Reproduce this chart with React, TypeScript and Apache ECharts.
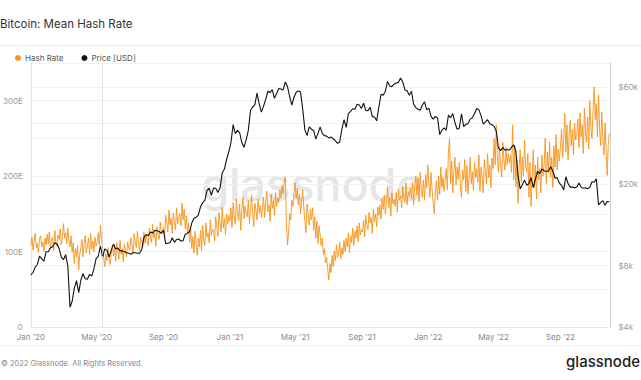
import React, { useEffect, useRef } from "react";
import * as echarts from "echarts";

// sampling steps in days since 2020-01-01
const HASH_STEP_DAYS = 2;
const PRICE_STEP_DAYS = 4;

// Mean hash rate (EH/s), one value every 2 days from 2020-01-01
const hashRate: number[] = [
  // 2020
  108, 119, 102, 114, 124, 105, 111, 99, 117, 121, 106, 113, 100, 118, 109, 123,
  110, 126, 104, 115, 119, 101, 128, 112, 107, 122, 116, 130, 109, 120,
  137, 118, 125, 110, 131, 115, 106, 121, 99, 112, 84, 104, 93, 108, 76, 97,
  105, 116, 93, 111, 121, 98, 108, 118, 96, 124, 103, 114, 100, 119, 107,
  112, 125, 108, 135, 118, 104, 92, 80, 97, 88, 105, 91, 83, 99, 108,
  94, 108, 87, 112, 99, 90, 115, 96, 104, 86, 110, 101, 93, 113, 105,
  102, 118, 109, 98, 124, 112, 105, 127, 110, 101, 119, 114, 106, 126, 111, 121,
  115, 108, 131, 120, 112, 136, 118, 125, 107, 133, 122, 116, 139, 124, 128,
  132, 121, 148, 138, 126, 155, 135, 144, 124, 151, 140, 129, 158, 137, 146,
  150, 134, 164, 142, 156, 130, 147, 125, 138, 112, 131, 104, 120, 98, 127, 110,
  95, 118, 106, 128, 101, 135, 115, 108, 138, 119, 125, 112, 142, 121, 130,
  128, 114, 146, 133, 120, 152, 138, 126, 159, 131, 144, 122, 150, 137, 148,
  // 2021
  140, 158, 132, 165, 147, 136, 170, 152, 141, 163, 128, 155, 172, 144, 160, 150,
  146, 168, 137, 158, 175, 149, 133, 164, 155, 142, 170, 151, 161, 145,
  158, 172, 145, 166, 180, 153, 162, 140, 176, 157, 168, 148, 178, 160, 171,
  165, 182, 171, 188, 176, 192, 199, 138, 109, 125, 150, 142, 168, 160, 178,
  191, 170, 184, 162, 176, 150, 168, 182, 158, 140, 125, 163, 148, 135, 156, 142,
  158, 128, 146, 118, 140, 111, 134, 122, 108, 118, 96, 104, 85, 92, 76,
  62, 84, 72, 95, 80, 101, 88, 109, 92, 98, 112, 90, 105, 96, 115,
  100, 118, 106, 125, 98, 121, 112, 131, 108, 127, 118, 134, 113, 138, 122, 129,
  126, 141, 120, 148, 135, 129, 152, 138, 145, 124, 156, 140, 150, 133, 159,
  148, 162, 143, 170, 156, 175, 150, 166, 186, 158, 172, 147, 178, 163, 169,
  160, 178, 152, 183, 168, 174, 158, 186, 171, 165, 191, 162, 180, 173, 184,
  170, 192, 162, 186, 200, 175, 198, 166, 205, 182, 172, 195, 168, 202, 184, 215,
  // 2022
  190, 172, 205, 182, 164, 150, 178, 194, 168, 200, 176, 212, 185, 198, 180,
  195, 210, 182, 232, 250, 190, 220, 178, 205, 225, 188, 212, 196, 218,
  185, 172, 208, 195, 222, 180, 214, 176, 200, 225, 190, 206, 182, 218, 198, 210,
  192, 228, 180, 212, 200, 178, 222, 206, 190, 230, 198, 215, 185, 224, 210,
  250, 215, 268, 226, 205, 240, 212, 199, 245, 222, 208, 238, 215, 230, 218,
  228, 205, 268, 195, 240, 186, 222, 164, 210, 235, 192, 225, 200, 248, 212,
  205, 230, 172, 218, 160, 200, 235, 185, 215, 170, 225, 195, 210, 178, 228, 200,
  215, 250, 190, 232, 205, 245, 198, 225, 185, 240, 212, 255, 208, 236, 220,
  238, 262, 225, 250, 283, 232, 268, 221, 255, 274, 240, 262, 228, 270, 248,
  255, 276, 238, 284, 252, 268, 230, 290, 260, 245, 278, 236, 300, 265, 250, 288,
  318, 275, 296, 252, 308, 262, 240, 285, 250, 228, 270, 235, 201, 242, 257,
];

// BTC price (USD), one value every 4 days from 2020-01-01
const priceUsd: number[] = [
  // 2020
  7200, 7400, 7850, 8100, 8900, 8650, 8400, 9350,
  9350, 9750, 9900, 10350, 10200, 9700, 8800,
  8550, 9050, 7950, 5000, 5350, 6200, 6750, 5900,
  6800, 7300, 6900, 6850, 7250, 7100, 7700, 8650,
  8900, 9980, 8800, 9650, 9500, 8800, 9550,
  10200, 9650, 9750, 9450, 9450, 9350, 9250, 9200,
  9100, 9250, 9250, 9200, 9200, 9600, 11000, 11350,
  11200, 11700, 11550, 11900, 11850, 11750, 11500,
  11900, 10250, 10300, 10350, 10950, 10400, 10750, 10800,
  10550, 10600, 11400, 11500, 11750, 12950, 13650, 13800,
  14150, 15500, 16300, 16700, 18700, 19150, 17700,
  19200, 19150, 18250, 19250, 22800, 23800, 26500, 28900,
  // 2021
  32000, 39300, 35500, 36800, 35900, 32100, 30400, 33100,
  36900, 46200, 47900, 49200, 56000, 49700, 45200,
  48400, 52300, 57300, 56400, 58300, 52900, 55800,
  59000, 58700, 58100, 63500, 60400, 53800, 49000, 53500,
  56600, 57400, 56700, 46800, 37000, 34700, 38300, 37300,
  36800, 33400, 35500, 38300, 35600, 34700, 34500,
  33800, 34200, 33500, 32800, 31800, 32300, 37300, 41500,
  38100, 44500, 45600, 47000, 46700, 49500, 49000, 47100,
  50000, 46100, 46000, 47700, 43000, 42800, 41000,
  47700, 55300, 54700, 57300, 64000, 60700, 60300, 62000,
  62900, 63300, 66500, 63600, 58100, 57500, 54700,
  57200, 49400, 47600, 46700, 46200, 48900, 50800, 46400,
  // 2022
  47300, 43100, 41800, 43100, 42300, 35100, 36900, 37900,
  36900, 43800, 42400, 44500, 40100, 37300, 37700,
  44400, 38400, 39400, 39700, 41800, 42400, 44500, 47100,
  46400, 43500, 39500, 40500, 41500, 39700, 39200,
  38500, 36500, 30100, 29300, 30400, 29400, 29700, 29400,
  30400, 31300, 29100, 22100, 19000, 20000, 21000,
  19800, 20200, 21600, 19300, 21200, 23200, 22600, 23800,
  23300, 23200, 23200, 24400, 23300, 21500, 21600, 20300,
  19800, 18800, 21800, 20200, 19400, 19400, 19200,
  19400, 20300, 19400, 19150, 19250, 19050, 19350, 20600,
  20500, 21300, 15900, 16300, 16650, 15800, 16500, 16450,
];

// x-axis ticks (days since 2020-01-01) and their labels
const xTickDays: number[] = [0, 121, 244, 366, 486, 609, 731, 851, 974];
const xTickLabels: string[] = ["Jan '20", "May '20", "Sep '20", "Jan '21", "May '21", "Sep '21", "Jan '22", "May '22", "Sep '22"];

const hashLabelValues: number[] = [0, 100, 200, 300];
const priceLabelValues: number[] = [4000, 8000, 20000, 60000];
const priceGridValues: number[] = [8000, 20000, 40000, 60000];
const halvingDay = 131; // 2020-05-11
const xMaxDay = 1066;
const priceMin = 4000;
const priceMax = 78750;

const FONT = "Inter, Roboto, 'Noto Sans', sans-serif";

export default function App() {
  const ref = useRef<HTMLDivElement>(null);
  useEffect(() => {
    if (!ref.current) return;
    const chart = echarts.init(ref.current, undefined, { renderer: "svg" });
    const hashData = hashRate.map((v, i) => [i * HASH_STEP_DAYS, v]);
    const priceData = priceUsd.map((v, i) => [i * PRICE_STEP_DAYS, Math.log10(v)]);
    const lg = (v: number) => Math.log10(v);

    chart.setOption({
      animation: false,
      textStyle: { fontFamily: FONT },
      grid: { left: 29, right: 29, top: 63, bottom: 53, containLabel: false },
      legend: {
        left: 10,
        top: 49,
        icon: "circle",
        itemWidth: 6,
        itemHeight: 6,
        itemGap: 18,
        textStyle: { fontSize: 8, color: "#555", fontFamily: FONT, padding: [0, 0, 0, -1] },
        data: ["Hash Rate", "Price [USD]"],
      },
      xAxis: {
        type: "value",
        min: 0,
        max: xMaxDay,
        axisLine: { show: true, lineStyle: { color: "#e8e8e8" } },
        axisTick: { show: false },
        splitLine: { show: false },
        axisLabel: {
          customValues: xTickDays,
          formatter: (v: number) => {
            const idx = xTickDays.indexOf(Math.round(v));
            return idx >= 0 ? xTickLabels[idx] : "";
          },
          fontSize: 8,
          color: "#888",
          margin: 6,
        },
      },
      yAxis: [
        {
          type: "value",
          min: 0,
          max: 350,
          interval: 50,
          position: "left",
          axisLine: { show: true, lineStyle: { color: "#fbdcb4" } },
          axisTick: { show: false },
          splitLine: { show: true, lineStyle: { color: "#f0f0f0" } },
          axisLabel: {
            customValues: hashLabelValues,
            formatter: (v: number) => (v === 0 ? "0" : v + "E"),
            fontSize: 8,
            color: "#999",
            margin: 8,
          },
        },
        {
          type: "value",
          min: lg(priceMin),
          max: lg(priceMax),
          position: "right",
          axisLine: { show: true, lineStyle: { color: "#d0d0d0" } },
          axisTick: { show: false, customValues: priceGridValues.map(lg) },
          splitLine: { show: true, lineStyle: { color: "#f0f0f0" } },
          axisLabel: {
            customValues: priceLabelValues.map(lg),
            formatter: (v: number) => "$" + Math.round(Math.pow(10, v) / 1000) + "k",
            fontSize: 8,
            color: "#999",
            margin: 8,
          },
        },
      ],
      graphic: [
        {
          type: "text",
          x: 312,
          y: 207,
          z: 0,
          silent: true,
          style: {
            text: "glassnode",
            fontSize: 45,
            fontFamily: FONT,
            fontWeight: 500,
            fill: "#e6e6e6",
            textAlign: "center",
            textVerticalAlign: "bottom",
          },
        },
        {
          type: "text",
          x: 0,
          y: 24,
          style: {
            text: "Bitcoin: Mean Hash Rate",
            fontSize: 11.5,
            fontFamily: FONT,
            fill: "#333",
            textVerticalAlign: "middle",
          },
        },
        {
          type: "line",
          shape: { x1: 0, y1: 45.5, x2: 641, y2: 45.5 },
          style: { stroke: "#ececec", lineWidth: 1 },
        },
        {
          type: "line",
          shape: { x1: 0, y1: 345.5, x2: 641, y2: 345.5 },
          style: { stroke: "#ececec", lineWidth: 1 },
        },
        {
          type: "text",
          x: 1,
          y: 363,
          style: {
            text: "© 2022 Glassnode. All Rights Reserved.",
            fontSize: 7.5,
            fontFamily: FONT,
            fill: "#888",
            textVerticalAlign: "middle",
          },
        },
        {
          type: "text",
          x: 640,
          y: 361,
          style: {
            text: "glassnode",
            fontSize: 15,
            fontFamily: FONT,
            fontWeight: 500,
            fill: "#222",
            textAlign: "right",
            textVerticalAlign: "middle",
          },
        },
      ],
      series: [
        {
          name: "Hash Rate",
          type: "line",
          yAxisIndex: 0,
          data: hashData,
          showSymbol: false,
          symbol: "none",
          itemStyle: { color: "#f7931a" },
          lineStyle: { color: "#f7931a", width: 0.9 },
          z: 2,
          markLine: {
            silent: true,
            symbol: "none",
            label: { show: false },
            lineStyle: { color: "#c8c8c8", type: "dotted", width: 1 },
            data: [{ xAxis: halvingDay }],
          },
        },
        {
          name: "Price [USD]",
          type: "line",
          yAxisIndex: 1,
          data: priceData,
          showSymbol: false,
          symbol: "none",
          itemStyle: { color: "#111" },
          lineStyle: { color: "#111", width: 1.1 },
          z: 3,
        },
      ],
    });
    return () => chart.dispose();
  }, []);
  return (
    <div
      ref={ref}
      style={{ position: "fixed", left: 0, top: 0, width: 641, height: 380, background: "#fff" }}
    />
  );
}
